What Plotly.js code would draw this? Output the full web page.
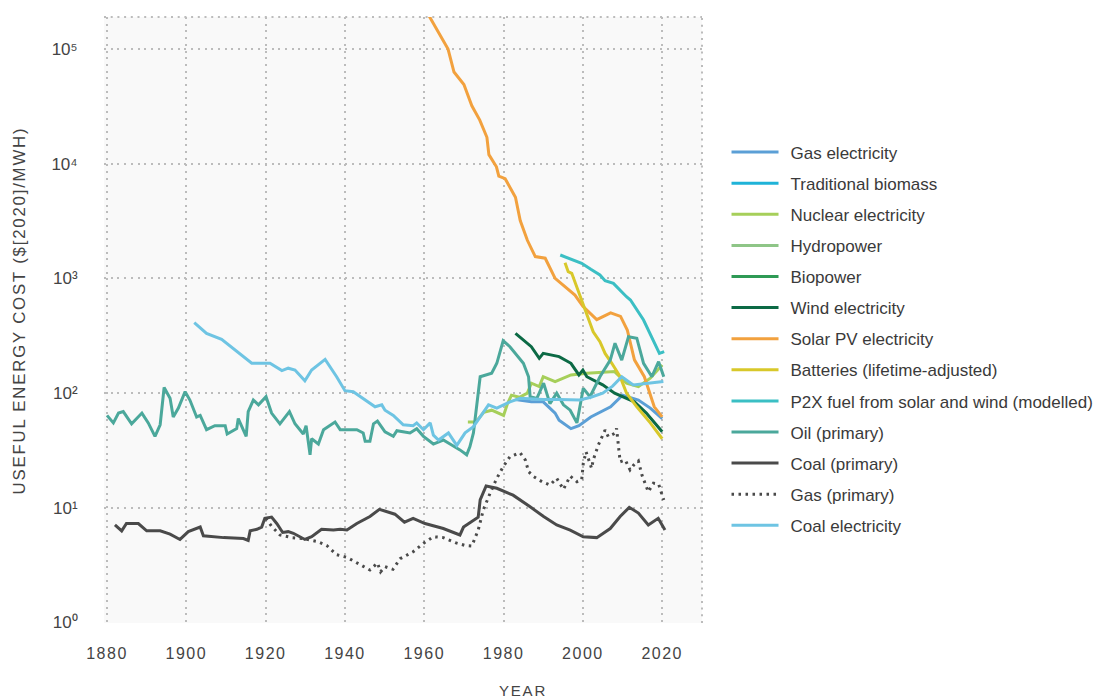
<!DOCTYPE html>
<html>
<head>
<meta charset="utf-8">
<script src="https://cdn.plot.ly/plotly-3.0.1.min.js"></script>
<style>
  body { margin: 0; padding: 0; background: #fff; }
  #chart { width: 1095px; height: 699px; }
  .xtick text { letter-spacing: 1.5px; }
  .annotation-text { letter-spacing: 1.8px; }
  .legendtext { transform: translateX(7px); }
  .legend .scrollbox { clip-path: none !important; }
</style>
</head>
<body>
<div id="chart"></div>
<script>
// ---- Data ----
var gasElecYears = [1983, 1987, 1990, 1993, 1994, 1997, 1999, 2002, 2007, 2010, 2014, 2017, 2020];
var gasElecVals  = [88, 84, 84, 67, 58, 49, 52, 62, 76, 96, 87, 74, 60];

// not distinguishable in the reference picture (legend entries only)
var tradBiomassYears = [null];
var tradBiomassVals  = [null];

var nuclearYears = [1971, 1973, 1975, 1977, 1980, 1981, 1982, 1984, 1986, 1987, 1989, 1990, 1993, 1997, 2001, 2008, 2011, 2014, 2017, 2020];
var nuclearVals  = [56, 56, 68, 71, 64, 81, 96, 92, 100, 122, 114, 139, 126, 144, 149, 154, 122, 114, 135, 176];

var hydroYears = [null];
var hydroVals  = [null];

var bioYears = [null];
var bioVals  = [null];

var windYears = [1983, 1985, 1987, 1989, 1990, 1994, 1997, 1999, 2000, 2001, 2005, 2008, 2013, 2016, 2020];
var windVals  = [332, 290, 254, 201, 222, 208, 182, 144, 159, 139, 118, 100, 84, 67, 46];

var solarYears = [1961, 1966, 1967.5, 1970, 1972, 1974, 1975.8, 1976.3, 1978.2, 1978.8, 1980.4, 1983, 1984.2, 1986, 1988, 1990.5, 1993, 1995, 1998, 2000, 2003.5, 2007, 2009.5, 2011.2, 2013, 2015.5, 2018, 2020];
var solarVals  = [200000, 100000, 63000, 49000, 32000, 24000, 17000, 12000, 9400, 7800, 7400, 5100, 3200, 2150, 1550, 1500, 1000, 870, 716, 571, 437, 500, 467, 355, 195, 139, 76, 62];

var batteryYears = [1995.5, 1996.3, 1997.2, 1998, 1999.3, 2000.5, 2002.6, 2004.3, 2005.6, 2007.3, 2009.4, 2011, 2013.6, 2017, 2020];
var batteryVals  = [1370, 1145, 1109, 936, 692, 548, 343, 281, 222, 182, 139, 100, 76, 55, 40];

var p2xYears = [1994.3, 1997.6, 1999.7, 2002, 2004.3, 2005.6, 2007.7, 2011, 2012, 2015.3, 2019.3, 2020.5];
var p2xVals  = [1600, 1446, 1355, 1200, 1071, 955, 906, 692, 648, 434, 222, 230];

var oilYears = [1880, 1881.6, 1882.9, 1884.1, 1886.2, 1888.8, 1890.4, 1892.1, 1893.4, 1894.4, 1895.9, 1896.7, 1898, 1899.7, 1900.9, 1902.6, 1903.5, 1905.1, 1907.2, 1909.8, 1910.3, 1912.7, 1913.1, 1915.1, 1915.6, 1916.9, 1918.2, 1920.1, 1921.5, 1923.6, 1926, 1927.4, 1929.5, 1930.2, 1931.2, 1931.6, 1933.3, 1934.6, 1937.5, 1938.8, 1943, 1944.6, 1945.1, 1946.3, 1947.2, 1948.2, 1950.1, 1952.2, 1953.1, 1956.4, 1958.1, 1959.8, 1962.3, 1964.8, 1966.5, 1969, 1970.7, 1971.5, 1972.4, 1974.1, 1977, 1978.3, 1979.9, 1981.6, 1985, 1986.3, 1986.7, 1988.4, 1990.1, 1991.7, 1993.4, 1995.1, 1996.8, 1998.5, 2000.1, 2001.8, 2004.3, 2006.9, 2008.1, 2009.8, 2011.5, 2013.6, 2015.3, 2017.4, 2019.1, 2020.4];
var oilVals  = [64, 55, 67, 69, 54, 67, 55, 42, 53, 112, 90, 62, 74, 103, 87, 62, 64, 48, 52, 52, 44, 49, 60, 42, 69, 87, 79, 93, 67, 54, 69, 54, 44, 52, 29, 40, 36, 48, 56, 48, 48, 45, 38, 38, 54, 57, 46, 42, 47, 45, 49, 42, 36, 39, 36, 32, 29, 34, 45, 139, 149, 182, 286, 254, 182, 139, 93, 90, 122, 81, 100, 79, 71, 55, 110, 93, 139, 194, 272, 194, 310, 301, 182, 139, 188, 139];

var coalPrimYears = [1882, 1883.7, 1884.9, 1887.9, 1890, 1893.4, 1895.9, 1898.4, 1900.5, 1903.5, 1904.3, 1909.4, 1914.4, 1915.6, 1916.1, 1917.8, 1919, 1919.8, 1921.5, 1922.8, 1924.3, 1925.7, 1927, 1929.9, 1931.6, 1934.1, 1937.1, 1938.8, 1940.5, 1943, 1946.3, 1948.7, 1952.6, 1955, 1957.2, 1960.2, 1964.8, 1969, 1969.9, 1973.6, 1974.1, 1975.6, 1978.3, 1982.4, 1986.7, 1990.1, 1993.4, 1996.8, 2000.1, 2003.5, 2006.9, 2009.4, 2011.7, 2014, 2016.5, 2019, 2020.7];
var coalPrimVals  = [7.1, 6.3, 7.3, 7.3, 6.3, 6.3, 5.9, 5.3, 6.2, 6.8, 5.7, 5.5, 5.4, 5.2, 6.3, 6.5, 6.8, 8.1, 8.3, 7.3, 6.1, 6.2, 6.0, 5.3, 5.6, 6.5, 6.4, 6.5, 6.4, 7.3, 8.4, 9.7, 8.8, 7.5, 8.1, 7.3, 6.6, 5.8, 6.8, 8.3, 11.7, 15.5, 14.8, 12.9, 10.2, 8.4, 7.1, 6.4, 5.6, 5.5, 6.6, 8.4, 10.1, 9.0, 7.1, 8.1, 6.4];

var gasPrimYears = [1920, 1921.5, 1923.6, 1926.6, 1929.5, 1932.9, 1935.4, 1937.9, 1940.5, 1943, 1946.3, 1948.2, 1949, 1950.1, 1952.1, 1953.9, 1957.2, 1959.8, 1962.3, 1964.8, 1967.8, 1970.3, 1972, 1973.6, 1974.9, 1976.6, 1978.3, 1979.9, 1981.6, 1984.2, 1985.5, 1986.3, 1987.6, 1989.7, 1991.7, 1993.4, 1995.1, 1996.8, 1998.5, 1999.7, 2000.1, 2000.8, 2001.4, 2002.2, 2002.6, 2003.9, 2005.6, 2006.4, 2008.1, 2008.5, 2008.9, 2009.4, 2010.7, 2011.9, 2012.8, 2014, 2014.9, 2016.5, 2017.8, 2019.1, 2020.4];
var gasPrimVals  = [8.1, 6.9, 5.8, 5.5, 5.4, 5.1, 4.7, 3.9, 3.7, 3.3, 2.87, 3.3, 2.77, 3.07, 2.91, 3.6, 4.14, 4.9, 5.6, 5.5, 4.97, 4.7, 4.65, 6.4, 9.6, 13.4, 18.1, 22.8, 27.9, 30.2, 26.1, 20.7, 18.7, 16.9, 15.8, 18.1, 14.5, 18.9, 16.9, 17.5, 24.4, 30.8, 26.1, 22.1, 26.1, 35.3, 47.7, 41.7, 44.7, 49.3, 36.5, 25.2, 26.1, 21.4, 23.6, 25.6, 19.3, 13.8, 16.4, 16.1, 11.7];

var coalElecYears = [1902, 1905.1, 1908.9, 1912.7, 1916.5, 1921.1, 1924.1, 1925.7, 1927.4, 1929.9, 1931.6, 1935, 1937.9, 1940, 1942.1, 1947.6, 1949.3, 1950.1, 1952.2, 1954.7, 1957.2, 1958.1, 1959.8, 1961.5, 1962.3, 1963.6, 1964.8, 1966.1, 1968.2, 1970.3, 1972.4, 1976.2, 1978.3, 1981.6, 1984.2, 1990, 1994.2, 1999.2, 2002, 2005, 2007.5, 2009.8, 2012.7, 2016.1, 2020.3];
var coalElecVals  = [411, 332, 294, 230, 182, 182, 157, 165, 159, 128, 159, 197, 139, 105, 103, 76, 79, 71, 64, 53, 52, 55, 48, 55, 43, 39, 42, 45, 35, 45, 51, 79, 74, 84, 90, 88, 88, 87, 92, 100, 115, 139, 118, 122, 126];

var seriesNames = ['Gas electricity', 'Traditional biomass', 'Nuclear electricity', 'Hydropower', 'Biopower',
  'Wind electricity', 'Solar PV electricity', 'Batteries (lifetime-adjusted)', 'P2X fuel from solar and wind (modelled)',
  'Oil (primary)', 'Coal (primary)', 'Gas (primary)', 'Coal electricity'];
var seriesColors = ['#5b9fd6', '#1fb3d8', '#a6cf5a', '#8ec587', '#2e9a55', '#0c6a45', '#f2a13e', '#d8c82a', '#3bbfc4',
  '#4ba89b', '#4a4a4a', '#4a4a4a', '#6ec4e3'];
var seriesX = [gasElecYears, tradBiomassYears, nuclearYears, hydroYears, bioYears, windYears, solarYears, batteryYears,
  p2xYears, oilYears, coalPrimYears, gasPrimYears, coalElecYears];
var seriesY = [gasElecVals, tradBiomassVals, nuclearVals, hydroVals, bioVals, windVals, solarVals, batteryVals,
  p2xVals, oilVals, coalPrimVals, gasPrimVals, coalElecVals];

var yTickVals = [1, 10, 100, 1000, 10000, 100000];
var yTickText = ['10\u2070', '10\u00B9', '10\u00B2', '10\u00B3', '10\u2074', '10\u2075'];
var xTickVals = [1880, 1900, 1920, 1940, 1960, 1980, 2000, 2020];

var traces = seriesNames.map(function (name, i) {
  return {
    type: 'scatter',
    mode: 'lines',
    name: name,
    legendgroup: 'g' + i,
    x: seriesX[i],
    y: seriesY[i],
    line: {
      color: seriesColors[i],
      width: 3,
      dash: name === 'Gas (primary)' ? '2.5px,4.5px' : 'solid'
    },
    hoverinfo: 'x+y+name'
  };
});

var gridCol = '#bcbcbc';
var layout = {
  width: 1095,
  height: 699,
  margin: { l: 104, r: 393, t: 17, b: 76, autoexpand: false },
  paper_bgcolor: '#ffffff',
  plot_bgcolor: '#f9f9f9',
  font: { family: 'Liberation Sans, Arial, sans-serif', color: '#444' },
  showlegend: true,
  legend: {
    x: 1.041, xanchor: 'left',
    y: 0.806, yanchor: 'top',
    font: { size: 17, color: '#3a3a3a' },
    tracegroupgap: 6,
    itemwidth: 47,
    bgcolor: 'rgba(0,0,0,0)'
  },
  xaxis: {
    range: [1879.24, 2030.04],
    tickvals: xTickVals,
    ticktext: xTickVals.map(String),
    showgrid: true,
    gridcolor: gridCol,
    gridwidth: 2,
    griddash: '2px,4.7px',
    zeroline: false,
    showline: false,
    ticks: 'outside',
    ticklen: 16,
    tickcolor: 'rgba(0,0,0,0)',
    tickfont: { size: 16, color: '#444' }
  },
  yaxis: {
    type: 'log',
    range: [-0.004, 5.279],
    tickvals: yTickVals,
    ticktext: yTickText,
    showgrid: true,
    gridcolor: gridCol,
    gridwidth: 2,
    griddash: '2px,4.7px',
    zeroline: false,
    showline: false,
    ticks: 'outside',
    ticklen: 22,
    tickcolor: 'rgba(0,0,0,0)',
    tickfont: { size: 17, color: '#444' }
  },
  shapes: [
    { type: 'line', xref: 'paper', yref: 'paper', x0: 0, x1: 1, y0: 1, y1: 1,
      line: { color: gridCol, width: 2, dash: '2px,4.7px' } },
    { type: 'line', xref: 'paper', yref: 'paper', x0: 1, x1: 1, y0: 0, y1: 1,
      line: { color: gridCol, width: 2, dash: '2px,4.7px' } }
  ],
  annotations: [
    { text: 'USEFUL ENERGY COST ($[2020]/MWH)', xref: 'paper', yref: 'paper',
      x: -0.1413, y: 0.5149, xanchor: 'center', yanchor: 'middle', textangle: -90,
      showarrow: false, font: { size: 16.8, color: '#444' } },
    { text: 'YEAR', xref: 'paper', yref: 'paper',
      x: 0.7007, y: -0.1106, xanchor: 'center', yanchor: 'middle',
      showarrow: false, font: { size: 15, color: '#444' } }
  ]
};

Plotly.newPlot('chart', traces, layout, { displayModeBar: false, responsive: false });
</script>
</body>
</html>
